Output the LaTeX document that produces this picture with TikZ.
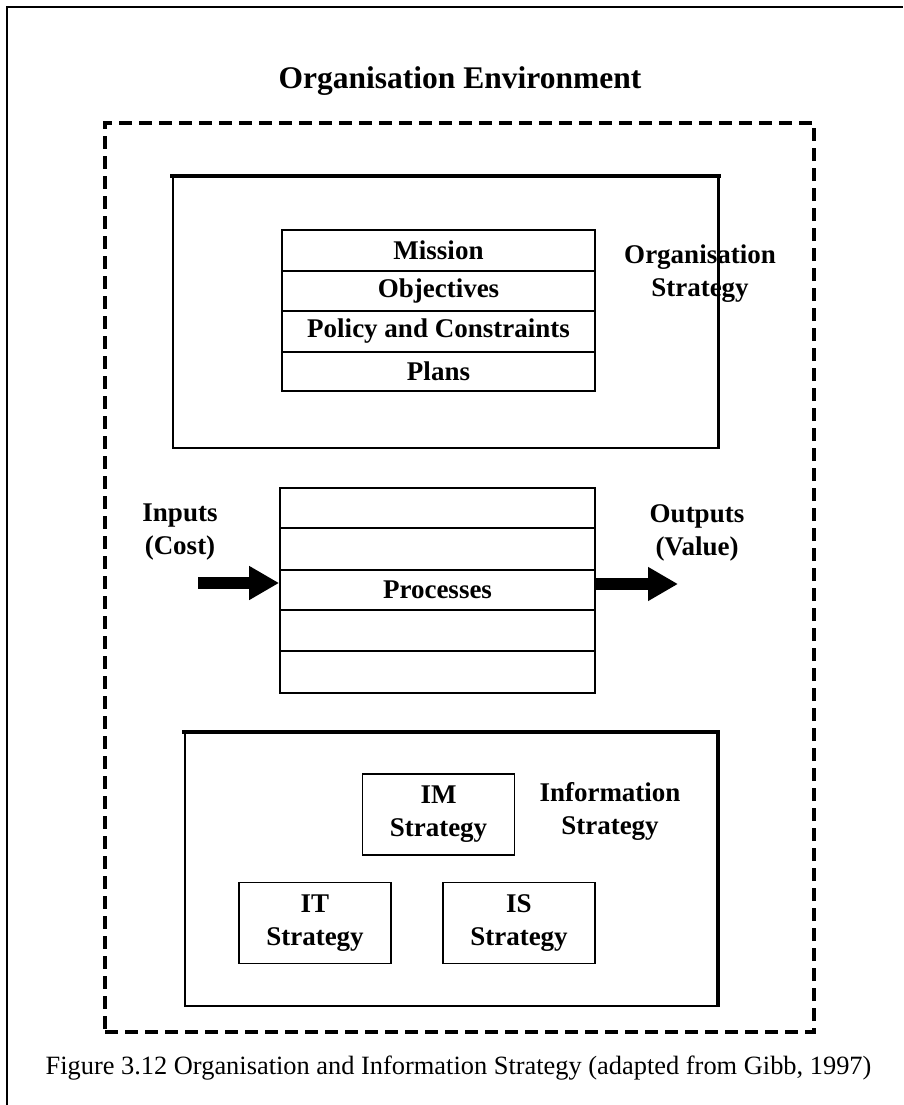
\documentclass[tikz,border=0pt]{standalone}
\usepackage{fontspec}
\setmainfont{Liberation Serif}
\usetikzlibrary{arrows.meta}
\begin{document}
\begin{tikzpicture}[x=1pt,y=-1pt,
  lbl/.style={font={\bfseries\fontsize{27}{33}\selectfont}, align=center, inner sep=0pt},
  cell/.style={draw, line width=1.8pt, inner sep=0pt, lbl},
  tablecell/.style={cell, minimum width=313pt},
  proccell/.style={cell, minimum width=315pt},
  smallbox/.style={cell, minimum width=152pt, minimum height=81pt},
  panel/.style={draw, line width=1.8pt, inner sep=0pt},
  envbox/.style={draw, line width=4pt, dash pattern=on 13pt off 7pt, inner sep=0pt},
  heavy/.style={line width=4pt, line cap=rect},
  blockarrow/.style={line width=11.5pt, -{Triangle[length=30pt,width=32pt]}},
]
\useasboundingbox (0,0) rectangle (903,1105);

% page frame (left and top rules)
\draw[line width=1.5pt] (7,1105) -- (7,7) -- (903,7);

% title and caption
\node[lbl, font={\bfseries\fontsize{31.5}{36}\selectfont}] (title) at (460,81) {Organisation Environment};
\node[inner sep=0pt, font={\fontsize{26.4}{32}\selectfont}] (caption) at (458.5,1068)
  {Figure 3.12 Organisation and Information Strategy (adapted from Gibb, 1997)};

% environment boundary
\node[envbox, minimum width=709pt, minimum height=909pt] (env) at (459.5,577.5) {};

% organisation strategy panel
\node[panel, minimum width=545pt, minimum height=271pt] (org) at (445.5,312.5) {};
\draw[heavy] (org.north west) -- (org.north east);
\draw[line width=3pt] (org.north east) -- (org.south east);
\node[tablecell, minimum height=41pt] (mission) at (438.5,250.5) {Mission};
\node[tablecell, minimum height=40pt] (objectives) at (438.5,291) {Objectives};
\node[tablecell, minimum height=41pt] (policy) at (438.5,331.5) {Policy and Constraints};
\node[tablecell, minimum height=39pt] (plans) at (438.5,371.5) {Plans};
\node[lbl] (orglabel) at (700,273.5) {Organisation\\Strategy};

% processes stack
\node[proccell, minimum height=40pt] (p1) at (437.5,508) {};
\node[proccell, minimum height=42pt] (p2) at (437.5,549) {};
\node[proccell, minimum height=40pt] (p3) at (437.5,590) {Processes};
\node[proccell, minimum height=41pt] (p4) at (437.5,630.5) {};
\node[proccell, minimum height=42pt] (p5) at (437.5,672) {};

% inputs and outputs
\node[lbl] (inlabel) at (180,532.5) {Inputs\\(Cost)};
\node[lbl] (outlabel) at (697,532.5) {Outputs\\(Value)};
\coordinate (instart) at (198,583);
\coordinate (outend) at (678,584);
\draw[blockarrow] (instart) -- ([yshift=7pt]p3.west);
\draw[blockarrow] ([yshift=6pt]p3.east) -- (outend);

% information strategy panel
\node[panel, minimum width=532pt, minimum height=273pt] (info) at (451,869.5) {};
\draw[line width=3.5pt, line cap=rect] (info.north west) -- (info.north east);
\draw[line width=4pt] (info.north east) -- (info.south east);
\node[smallbox] (im) at (438.5,814.5) {IM\\Strategy};
\node[smallbox] (it) at (315,923) {IT\\Strategy};
\node[smallbox] (is) at (519,923) {IS\\Strategy};
\node[lbl] (infolabel) at (610,811) {Information\\Strategy};
\end{tikzpicture}
\end{document}
